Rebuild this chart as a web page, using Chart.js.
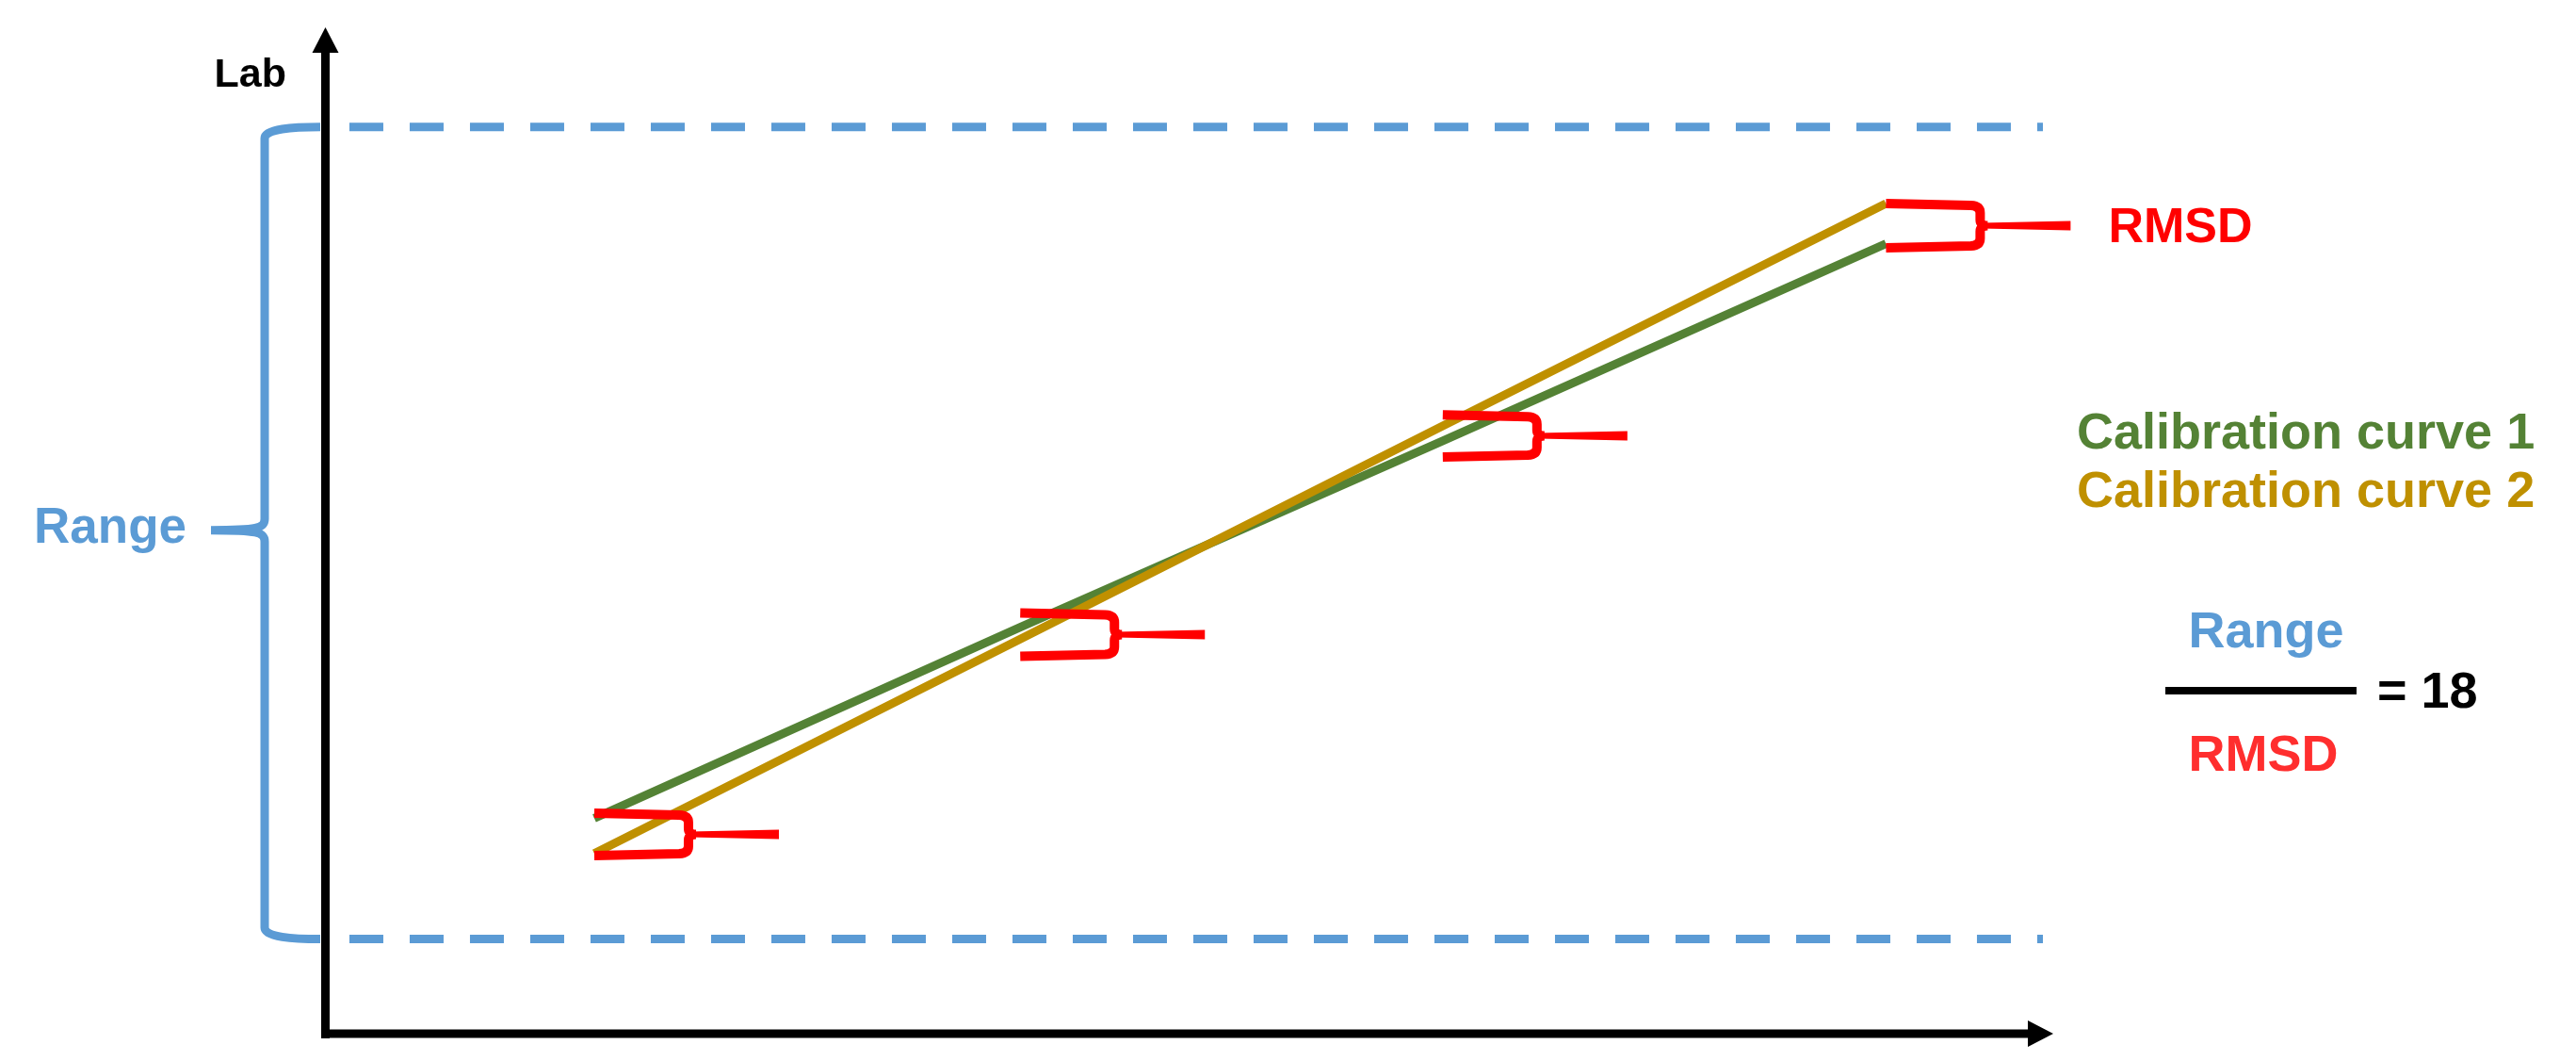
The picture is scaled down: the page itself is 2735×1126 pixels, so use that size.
<!DOCTYPE html>
<html lang="en">
<head>
<meta charset="UTF-8">
<title>Range / RMSD</title>
<script src="https://cdn.jsdelivr.net/npm/chart.js@4.4.1/dist/chart.umd.min.js"></script>
<style>
    html, body { margin: 0; padding: 0; background: #fff; }
    #wrap { width: 2735px; height: 1126px; }
</style>
</head>
<body>
<div id="wrap"><canvas id="chart" width="2735" height="1126"></canvas></div>
<script>
// positions on the reference axis (0-100 scale) where the curves are compared
const xValues = [15.4, 40.1, 64.6, 90.3];
const curve1 = [21.4, 40.4, 58.9, 78.5];
const curve2 = [17.9, 39.2, 60.4, 82.5];
const seriesLabels = ['Calibration curve 1', 'Calibration curve 2'];

// top and bottom of each RMSD brace
const rmsdHigh = [21.9, 41.8, 61.5, 82.5];
const rmsdLow = [17.7, 37.5, 57.3, 78.1];

// lab range shown by the dashed lines
const rangeMin = 9.4;
const rangeMax = 90.1;
const rangeX = [1.2, 99.4];
const ratio = 18;

const GREEN = '#548235';
const GOLD = '#BF9000';
const BLUE = '#5B9BD5';
const RED = '#FF0000';
const FONT = '"Liberation Sans", Arial, sans-serif';

function toPoints(ys) {
    return xValues.map((x, i) => ({ x: x, y: ys[i] }));
}

function rangeLine(y, label) {
    return {
        label: label,
        data: rangeX.map(x => ({ x: x, y: y })),
        borderColor: BLUE,
        borderWidth: 9,
        borderDash: [36, 28],
        pointRadius: 0,
        order: 3
    };
}

// curly brace pointing left (the blue "Range" one)
function leftBrace(ctx, xEnd, xv, yTop, yBot, tipX) {
    const ym = (yTop + yBot) / 2 - 3;
    ctx.beginPath();
    ctx.moveTo(xEnd, yTop);
    ctx.bezierCurveTo(xv + 30, yTop, xv, yTop + 2, xv, yTop + 12);
    ctx.lineTo(xv, ym - 12);
    ctx.bezierCurveTo(xv, ym - 2, xv - 8, ym, tipX, ym);
    ctx.moveTo(tipX, ym);
    ctx.bezierCurveTo(xv - 8, ym, xv, ym + 2, xv, ym + 12);
    ctx.lineTo(xv, yBot - 12);
    ctx.bezierCurveTo(xv, yBot - 2, xv + 30, yBot, xEnd, yBot);
    ctx.stroke();
}

// curly brace pointing right (the red RMSD ones)
function rightBrace(ctx, x0, xv, yTop, yBot, tipX) {
    const ym = (yTop + yBot) / 2;
    ctx.beginPath();
    ctx.moveTo(x0, yTop);
    ctx.lineTo(xv - 10, yTop + 2);
    ctx.quadraticCurveTo(xv, yTop + 2.5, xv, yTop + 10);
    ctx.lineTo(xv, ym - 6);
    ctx.quadraticCurveTo(xv, ym, xv + 8, ym);
    ctx.moveTo(xv + 8, ym);
    ctx.quadraticCurveTo(xv, ym, xv, ym + 6);
    ctx.lineTo(xv, yBot - 10);
    ctx.quadraticCurveTo(xv, yBot - 2.5, xv - 10, yBot - 2);
    ctx.lineTo(x0, yBot);
    ctx.stroke();
    // tapered tip
    ctx.beginPath();
    ctx.moveTo(xv + 2, ym - 3);
    ctx.lineTo(tipX, ym - 5);
    ctx.lineTo(tipX, ym + 5);
    ctx.lineTo(xv + 2, ym + 3);
    ctx.closePath();
    ctx.fill();
}

const annotations = {
    id: 'annotations',
    afterDatasetsDraw(chart) {
        const ctx = chart.ctx;
        const xs = chart.scales.x;
        const ys = chart.scales.y;
        const area = chart.chartArea;
        ctx.save();
        ctx.lineCap = 'butt';
        ctx.lineJoin = 'round';

        // RMSD braces
        ctx.strokeStyle = RED;
        ctx.fillStyle = RED;
        ctx.lineWidth = 10;
        xValues.forEach((x, i) => {
            const x0 = xs.getPixelForValue(x);
            rightBrace(ctx, x0, x0 + 100, ys.getPixelForValue(rmsdHigh[i]),
                ys.getPixelForValue(rmsdLow[i]), x0 + 196);
        });

        // Range brace
        ctx.strokeStyle = BLUE;
        ctx.lineWidth = 9;
        leftBrace(ctx, area.left - 9, area.left - 68,
            ys.getPixelForValue(rangeMax), ys.getPixelForValue(rangeMin), area.left - 125);

        // axes with arrows
        ctx.fillStyle = '#000';
        ctx.fillRect(area.left - 8, 55, 9, area.bottom + 5 - 55);
        ctx.fillRect(area.left - 8, area.bottom - 4.5, area.right - 27 - (area.left - 8), 9);
        ctx.beginPath();
        ctx.moveTo(area.left - 3.5, area.top);
        ctx.lineTo(area.left - 17.5, area.top + 27);
        ctx.lineTo(area.left + 10.5, area.top + 27);
        ctx.closePath();
        ctx.fill();
        ctx.beginPath();
        ctx.moveTo(area.right, area.bottom);
        ctx.lineTo(area.right - 27, area.bottom - 14);
        ctx.lineTo(area.right - 27, area.bottom + 14);
        ctx.closePath();
        ctx.fill();

        // texts
        ctx.textBaseline = 'alphabetic';
        ctx.fillStyle = '#000';
        ctx.textAlign = 'right';
        ctx.font = 'bold 43px ' + FONT;
        ctx.fillText('Lab', area.left - 45, 92);

        ctx.textAlign = 'left';
        ctx.fillStyle = BLUE;
        ctx.font = 'bold 53px ' + FONT;
        ctx.fillText('Range', 36, 576);

        const last = xValues.length - 1;
        const ymLast = (ys.getPixelForValue(rmsdHigh[last]) + ys.getPixelForValue(rmsdLow[last])) / 2;
        ctx.fillStyle = RED;
        ctx.font = 'bold 52px ' + FONT;
        ctx.fillText('RMSD', xs.getPixelForValue(xValues[last]) + 236, ymLast + 18);

        ctx.font = 'bold 54px ' + FONT;
        ctx.fillStyle = GREEN;
        ctx.fillText(seriesLabels[0], 2205, 476);
        ctx.fillStyle = GOLD;
        ctx.fillText(seriesLabels[1], 2205, 538);

        // Range / RMSD = 18
        ctx.textAlign = 'center';
        ctx.font = 'bold 54px ' + FONT;
        ctx.fillStyle = BLUE;
        ctx.fillText('Range', 2406, 687);
        ctx.fillStyle = '#FF2E2E';
        ctx.fillText('RMSD', 2403, 818);
        ctx.fillStyle = '#000';
        ctx.fillRect(2299, 729, 203, 8);
        ctx.textAlign = 'left';
        ctx.fillText('= ' + ratio, 2524, 751);

        ctx.restore();
    }
};

new Chart(document.getElementById('chart'), {
    type: 'line',
    data: {
        datasets: [
            {
                label: seriesLabels[0],
                data: toPoints(curve1),
                borderColor: GREEN,
                borderWidth: 9,
                pointRadius: 0,
                order: 2
            },
            {
                label: seriesLabels[1],
                data: toPoints(curve2),
                borderColor: GOLD,
                borderWidth: 9,
                pointRadius: 0,
                order: 1
            },
            rangeLine(rangeMax, 'Range max'),
            rangeLine(rangeMin, 'Range min')
        ]
    },
    options: {
        responsive: false,
        devicePixelRatio: 1,
        animation: false,
        layout: { padding: { left: 349, right: 555, top: 29, bottom: 29 } },
        scales: {
            x: { type: 'linear', min: 0, max: 100, display: false },
            y: { type: 'linear', min: 0, max: 100, display: false }
        },
        plugins: {
            legend: { display: false },
            tooltip: { enabled: false }
        }
    },
    plugins: [annotations]
});
</script>
</body>
</html>
